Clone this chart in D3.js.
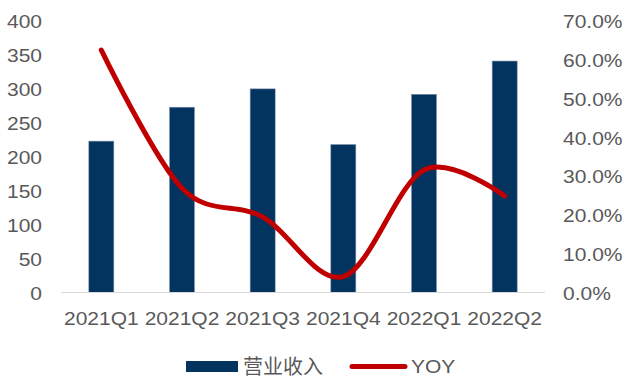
<!DOCTYPE html>
<html>
<head>
<meta charset="utf-8">
<script src="https://cdn.jsdelivr.net/npm/d3@7/dist/d3.min.js"></script>
<style>
  html, body { margin: 0; padding: 0; background: #fff; }
  svg { display: block; }
  text { font-family: "Liberation Sans", Arial, sans-serif; fill: #595959; }
</style>
</head>
<body>
<svg id="chart" width="627" height="378"></svg>
<script>
// Quarterly revenue (bars, left axis) and year-over-year growth (line, right axis)
const categories = ["2021Q1", "2021Q2", "2021Q3", "2021Q4", "2022Q1", "2022Q2"];
const revenue = [223, 273, 300, 218, 292, 341];
const yoy = [62.5, 26.9, 19.5, 4.1, 31.6, 24.9];
const leftTicks = [0, 50, 100, 150, 200, 250, 300, 350, 400];
const rightTicks = [0, 10, 20, 30, 40, 50, 60, 70];
const seriesNames = ["营业收入", "YOY"];

const W = 627, H = 378;
const plot = { left: 61, right: 545, top: 21, bottom: 292.5 };
const barColor = "#03335f";
const lineColor = "#c00000";
const sx = 1.13; // horizontal stretch for label text

const svg = d3.select("#chart");

const x = d3.scaleBand()
  .domain(categories)
  .range([plot.left, plot.right])
  .paddingInner(0.69)
  .paddingOuter(0.345);

const yL = d3.scaleLinear().domain([0, 400]).range([plot.bottom, plot.top]);
const yR = d3.scaleLinear().domain([0, 70]).range([plot.bottom, plot.top]);

// Bars
svg.append("g")
  .selectAll("rect")
  .data(categories.map((c, i) => ({ c, v: revenue[i] })))
  .join("rect")
  .attr("x", d => x(d.c))
  .attr("y", d => yL(d.v))
  .attr("width", x.bandwidth())
  .attr("height", d => yL(0) - yL(d.v))
  .attr("fill", barColor)
  .attr("stroke", "#7f93ad")
  .attr("stroke-width", 0.6);

// Category axis
const xAxis = svg.append("g")
  .attr("transform", `translate(0,${plot.bottom})`)
  .call(d3.axisBottom(x).tickSize(0).tickPadding(0));
xAxis.select(".domain").attr("stroke", "#d9d9d9").attr("stroke-width", 1.2)
  .attr("d", `M${plot.left},0H${plot.right}`);
xAxis.selectAll("text")
  .attr("y", 32.5).attr("dy", 0)
  .attr("font-size", 18.6)
  .attr("fill", "#595959")
  .attr("transform", `scale(${sx},1)`);

// Left value axis
const leftAxis = svg.append("g")
  .attr("transform", `translate(${plot.left},0)`)
  .call(d3.axisLeft(yL).tickValues(leftTicks).tickSize(0).tickFormat(d3.format("d")));
leftAxis.select(".domain").remove();
leftAxis.selectAll("text")
  .attr("x", -19 / sx)
  .attr("dy", "0.36em")
  .attr("font-size", 18.6)
  .attr("fill", "#595959")
  .attr("transform", `scale(${sx},1)`);

// Right percentage axis
const rightAxis = svg.append("g")
  .attr("transform", `translate(${plot.right},0)`)
  .call(d3.axisRight(yR).tickValues(rightTicks).tickSize(0).tickFormat(d => d.toFixed(1) + "%"));
rightAxis.select(".domain").remove();
rightAxis.selectAll("text")
  .attr("x", 18 / sx)
  .attr("dy", "0.36em")
  .attr("font-size", 18.6)
  .attr("fill", "#595959")
  .attr("transform", `scale(${sx},1)`);

// Smoothed growth line
const line = d3.line()
  .x((d, i) => x(categories[i]) + x.bandwidth() / 2)
  .y(d => yR(d))
  .curve(d3.curveCatmullRom.alpha(0));

svg.append("path")
  .datum(yoy)
  .attr("d", line)
  .attr("fill", "none")
  .attr("stroke", lineColor)
  .attr("stroke-width", 5)
  .attr("stroke-linecap", "round")
  .attr("stroke-linejoin", "round");

// Legend
const legend = svg.append("g");
legend.append("rect")
  .attr("x", 186).attr("y", 361).attr("width", 52).attr("height", 11)
  .attr("fill", barColor);
legend.append("text")
  .attr("x", 243).attr("y", 373.5)
  .attr("font-size", 20)
  .style("font-family", '"Noto Sans CJK SC", sans-serif')
  .text(seriesNames[0]);
legend.append("line")
  .attr("x1", 352).attr("x2", 405).attr("y1", 366.5).attr("y2", 366.5)
  .attr("stroke", lineColor).attr("stroke-width", 5)
  .attr("stroke-linecap", "round");
legend.append("text")
  .attr("x", 411 / sx).attr("y", 366.5)
  .attr("dominant-baseline", "central")
  .attr("font-size", 18.6)
  .attr("transform", `scale(${sx},1)`)
  .text(seriesNames[1]);
</script>
</body>
</html>
